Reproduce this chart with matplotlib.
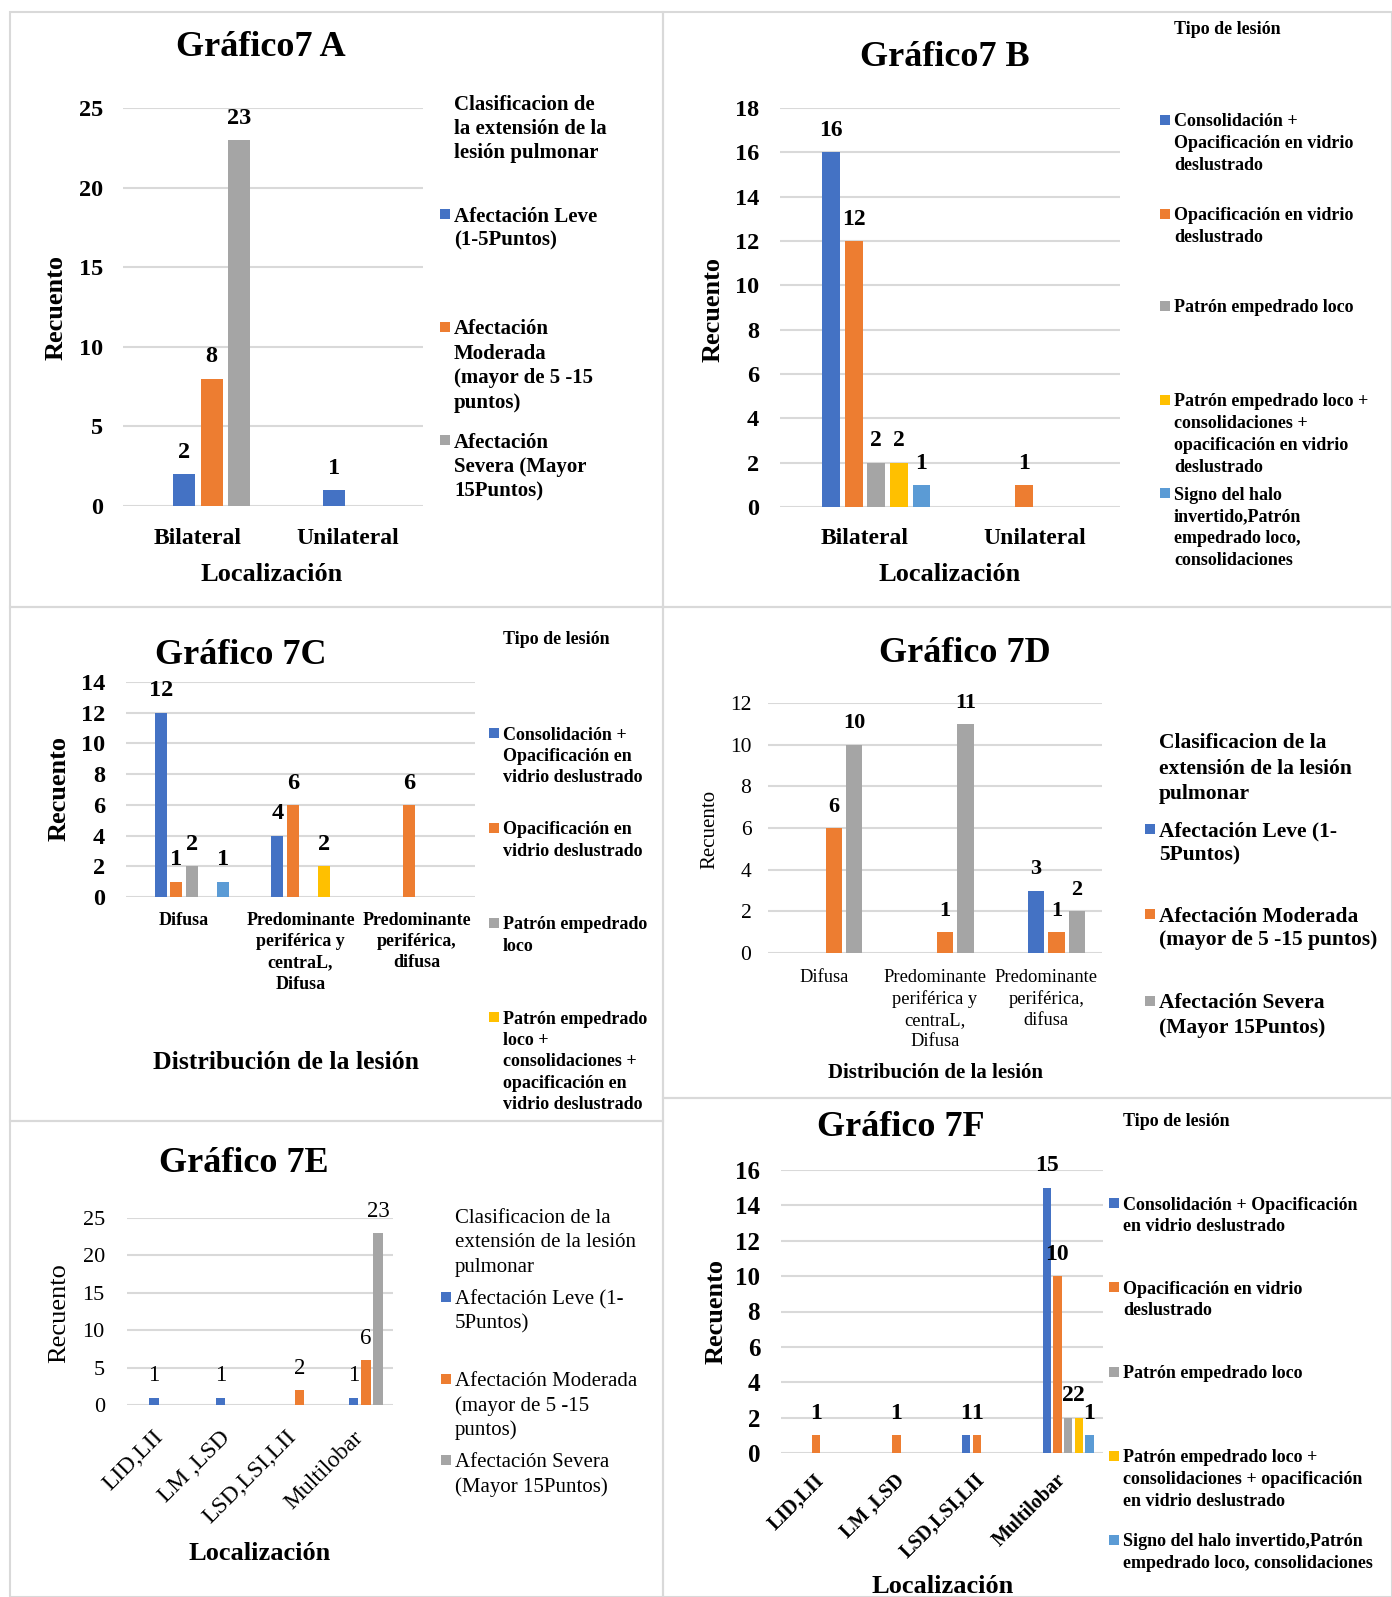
import matplotlib.pyplot as plt
import numpy as np
from matplotlib.patches import Rectangle

plt.rcParams['font.family'] = ['Liberation Serif', 'DejaVu Serif']

W, H = 1392, 1597

BLUE = '#4472C4'
ORANGE = '#ED7D31'
GRAY = '#A5A5A5'
YELLOW = '#FFC000'
SKY = '#5B9BD5'
GRID = '#D9D9D9'

# --- data -------------------------------------------------------------
lados = ['Bilateral', 'Unilateral']
distribucion = ['Difusa', 'Predominante\nperiférica y\ncentraL,\nDifusa',
                'Predominante\nperiférica,\ndifusa']
lobulos = ['LID,LII', 'LM ,LSD', 'LSD,LSI,LII', 'Multilobar']

# 7A: extensión por localización
a_leve = [2, 1]
a_moderada = [8, 0]
a_severa = [23, 0]

# 7B: tipo de lesión por localización
b_consol_opac = [16, 0]
b_opac = [12, 1]
b_empedrado = [2, 0]
b_empedrado_mixto = [2, 0]
b_halo = [1, 0]

# 7C: tipo de lesión por distribución
c_consol_opac = [12, 4, 0]
c_opac = [1, 6, 6]
c_empedrado = [2, 0, 0]
c_empedrado_mixto = [0, 2, 0]
c_halo = [1, 0, 0]

# 7D: extensión por distribución
d_leve = [0, 0, 3]
d_moderada = [6, 1, 1]
d_severa = [10, 11, 2]

# 7E: extensión por lóbulo
e_leve = [1, 1, 0, 1]
e_moderada = [0, 0, 2, 6]
e_severa = [0, 0, 0, 23]

# 7F: tipo de lesión por lóbulo
f_consol_opac = [0, 0, 1, 15]
f_opac = [1, 1, 1, 10]
f_empedrado = [0, 0, 0, 2]
f_empedrado_mixto = [0, 0, 0, 2]
f_halo = [0, 0, 0, 1]

ext_title_a = 'Clasificacion de\nla extensión de la\nlesión pulmonar'
ext_title = 'Clasificacion de la\nextensión de la lesión\npulmonar'
ext_a = ['Afectación Leve\n(1-5Puntos)',
         'Afectación\nModerada\n(mayor de 5 -15\npuntos)',
         'Afectación\nSevera (Mayor\n15Puntos)']
ext_d = ['Afectación Leve (1-\n5Puntos)',
         'Afectación Moderada\n(mayor de 5 -15 puntos)',
         'Afectación Severa\n(Mayor 15Puntos)']
ext_e = ['Afectación Leve (1-\n5Puntos)',
         'Afectación Moderada\n(mayor de 5 -15\npuntos)',
         'Afectación Severa\n(Mayor 15Puntos)']
tipo_b = ['Consolidación +\nOpacificación en vidrio\ndeslustrado',
          'Opacificación en vidrio\ndeslustrado',
          'Patrón empedrado loco',
          'Patrón empedrado loco +\nconsolidaciones +\nopacificación en vidrio\ndeslustrado',
          'Signo del halo\ninvertido,Patrón\nempedrado loco,\nconsolidaciones']
tipo_c = ['Consolidación +\nOpacificación en\nvidrio deslustrado',
          'Opacificación en\nvidrio deslustrado',
          'Patrón empedrado\nloco',
          'Patrón empedrado\nloco +\nconsolidaciones +\nopacificación en\nvidrio deslustrado']
tipo_f = ['Consolidación + Opacificación\nen vidrio deslustrado',
          'Opacificación en vidrio\ndeslustrado',
          'Patrón empedrado loco',
          'Patrón empedrado loco +\nconsolidaciones + opacificación\nen vidrio deslustrado',
          'Signo del halo invertido,Patrón\nempedrado loco, consolidaciones']

ext_colors = [BLUE, ORANGE, GRAY]
tipo_colors = [BLUE, ORANGE, GRAY, YELLOW, SKY]

fig = plt.figure(figsize=(W / 100, H / 100), dpi=100)


def fx(x):
    return x / W


def fy(y):
    return 1 - y / H


def weight(bold):
    return 'bold' if bold else 'normal'


def put(x, y, s, size, bold=True, **kw):
    kw.setdefault('va', 'center_baseline')
    fig.text(fx(x), fy(y), s, fontsize=size, fontweight=weight(bold), **kw)


def frame(x0, y0, x1, y1):
    fig.add_artist(Rectangle((fx(x0), fy(y1)), (x1 - x0) / W, (y1 - y0) / H,
                             transform=fig.transFigure, fill=False,
                             edgecolor=GRID, lw=1.5))


def legend(x, ys, labels, colors, size, step, bold=True):
    for lab, col, y0 in zip(labels, colors, ys):
        fig.add_artist(Rectangle((fx(x - 14), fy(y0 + 5)), 10 / W, 10 / H,
                                 transform=fig.transFigure, color=col, lw=0))
        for k, line in enumerate(lab.split('\n')):
            put(x, y0 + k * step, line, size, bold, ha='left')


def bars(box, cats, series, colors, nslots, ymax, ystep, tick_size, tick_bold,
         tick_pad, val_size, val_bold, cat_size, cat_bold, cat_offset=0,
         cat_step=0, rotate=False):
    l, t, r, b = box
    ax = fig.add_axes([fx(l), fy(b), (r - l) / W, (b - t) / H])
    spacing = 0.183 if nslots == 4 else 0.133
    width = 0.145 if nslots == 4 else 0.104
    offsets = (np.arange(nslots) - (nslots - 1) / 2) * spacing
    x = np.arange(len(cats))
    # first slot of each group is left empty
    for slot, (vals, col) in enumerate(zip(series, colors), start=1):
        vals = np.asarray(vals)
        pos = x + offsets[slot]
        keep = vals > 0
        ax.bar(pos[keep], vals[keep], width=width, color=col, zorder=2)
        for px, v in zip(pos[keep], vals[keep]):
            ax.annotate(str(v), (px, v), xytext=(0, 11.7),
                        textcoords='offset points', ha='center',
                        va='baseline', fontsize=val_size,
                        fontweight=weight(val_bold), annotation_clip=False)
    ax.set_xlim(-0.5, len(cats) - 0.5)
    ax.set_ylim(0, ymax)
    ax.set_yticks(np.arange(0, ymax + ystep, ystep))
    ax.tick_params(axis='y', length=0, pad=tick_pad, labelsize=tick_size)
    for lab in ax.get_yticklabels():
        lab.set_fontweight(weight(tick_bold))
    ax.yaxis.grid(True, color=GRID, lw=1.5)
    ax.set_axisbelow(True)
    for sp in ax.spines.values():
        sp.set_visible(False)
    if rotate:
        ax.set_xticks(x, cats)
        ax.tick_params(axis='x', length=0, pad=cat_offset, labelsize=cat_size)
        for lab in ax.get_xticklabels():
            lab.set(rotation=45, ha='right', va='center',
                    rotation_mode='anchor', fontweight=weight(cat_bold))
    else:
        ax.set_xticks([])
        for i, cat in enumerate(cats):
            for k, line in enumerate(cat.split('\n')):
                ax.annotate(line, (i, 0), xycoords=('data', 'axes fraction'),
                            xytext=(0, -(cat_offset + k * cat_step) * 0.72),
                            textcoords='offset points', ha='center',
                            va='center_baseline', fontsize=cat_size,
                            fontweight=weight(cat_bold),
                            annotation_clip=False)
    return ax


# panel frames
frame(10, 12, 663, 607)
frame(663, 12, 1392, 607)
frame(10, 607, 663, 1121)
frame(663, 607, 1392, 1098)
frame(10, 1121, 663, 1597)
frame(663, 1098, 1392, 1597)

# --- Gráfico 7A ---
bars((123, 108, 423, 506), lados, [a_leve, a_moderada, a_severa], ext_colors,
     4, 25, 5, 17.5, True, 14, 17.5, True, 17, True, cat_offset=30)
put(261, 44, 'Gráfico7 A', 26, ha='center')
put(56, 308, 'Recuento', 19, rotation=90, ha='center', va='center')
put(272, 572, 'Localización', 19, ha='center')
for k, line in enumerate(ext_title_a.split('\n')):
    put(454, 102 + k * 24.4, line, 15, ha='left')
legend(454, [214, 327, 440], ext_a, ext_colors, 15, 24.4)

# --- Gráfico 7B ---
bars((780, 108, 1120, 507), lados,
     [b_consol_opac, b_opac, b_empedrado, b_empedrado_mixto, b_halo],
     tipo_colors, 6, 18, 2, 17.5, True, 15, 17, True, 17, True, cat_offset=29)
put(945, 54, 'Gráfico7 B', 26, ha='center')
put(1174, 28, 'Tipo de lesión', 13, ha='left')
put(713, 309, 'Recuento', 19, rotation=90, ha='center', va='center')
put(950, 572, 'Localización', 19, ha='center')
legend(1174, [120, 214, 306, 400, 493], tipo_b, tipo_colors, 13, 21.9)

# --- Gráfico 7C ---
bars((126, 682, 475, 897), distribucion,
     [c_consol_opac, c_opac, c_empedrado, c_empedrado_mixto, c_halo],
     tipo_colors, 6, 14, 2, 17.5, True, 15, 17.5, True, 13, True,
     cat_offset=21, cat_step=21.4)
put(241, 651, 'Gráfico 7C', 26, ha='center')
put(503, 638, 'Tipo de lesión', 13, ha='left')
put(59, 789, 'Recuento', 19, rotation=90, ha='center', va='center')
put(286, 1060, 'Distribución de la lesión', 18.5, ha='center')
legend(503, [733, 828, 923, 1017], tipo_c, tipo_colors, 13, 21.4)

# --- Gráfico 7D ---
bars((768, 703, 1102, 953), distribucion, [d_leve, d_moderada, d_severa],
     ext_colors, 4, 12, 2, 15.5, False, 12, 16, True, 13.3, False,
     cat_offset=22.5, cat_step=21.4)
put(965, 649, 'Gráfico 7D', 26, ha='center')
put(710, 829, 'Recuento', 15, bold=False, rotation=90, ha='center', va='center')
put(935, 1070, 'Distribución de la lesión', 15, ha='center')
for k, line in enumerate(ext_title.split('\n')):
    put(1159, 741 + k * 25, line, 15.5, ha='left')
legend(1159, [829, 914, 1001], ext_d, ext_colors, 15.5, 24)

# --- Gráfico 7E ---
bars((127, 1218, 393, 1405), lobulos, [e_leve, e_moderada, e_severa],
     ext_colors, 4, 25, 5, 16, False, 16, 16.5, False, 17, False,
     cat_offset=21, rotate=True)
put(244, 1159, 'Gráfico 7E', 26, ha='center')
put(59, 1313, 'Recuento', 19, bold=False, rotation=90, ha='center', va='center')
put(260, 1551, 'Localización', 19, ha='center')
for k, line in enumerate(ext_title.split('\n')):
    put(455, 1216 + k * 24.4, line, 15, bold=False, ha='left')
legend(455, [1297, 1379, 1460], ext_e, ext_colors, 15, 24.4, bold=False)

# --- Gráfico 7F ---
bars((781, 1170, 1103, 1453), lobulos,
     [f_consol_opac, f_opac, f_empedrado, f_empedrado_mixto, f_halo],
     tipo_colors, 6, 16, 2, 18, True, 15, 17, True, 14.5, True,
     cat_offset=17.5, rotate=True)
put(901, 1124, 'Gráfico 7F', 26, ha='center')
put(1123, 1119, 'Tipo de lesión', 13, ha='left')
put(716, 1312, 'Recuento', 19, rotation=90, ha='center', va='center')
put(943, 1584, 'Localización', 19, ha='center')
legend(1123, [1203, 1287, 1372, 1456, 1540], tipo_f, tipo_colors, 13, 21.9)

fig.savefig('out.png', dpi=100, facecolor='white')
